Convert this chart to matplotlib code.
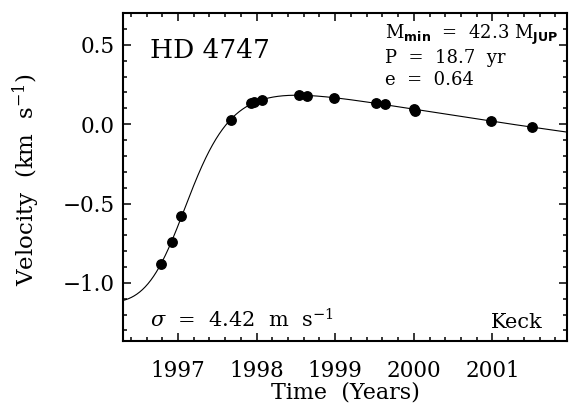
import numpy as np
import matplotlib
matplotlib.use("Agg")
import matplotlib.pyplot as plt
from matplotlib.ticker import MultipleLocator

# Keck radial velocities of HD 4747
years = [1996.780, 1996.924, 1997.042, 1997.673, 1997.927, 1997.973,
         1998.071, 1998.541, 1998.646, 1998.985, 1999.518, 1999.632,
         2000.000, 2000.020, 2000.980, 2001.510]
velocity = [-0.881, -0.740, -0.581, 0.027, 0.132, 0.140,
            0.153, 0.184, 0.176, 0.164, 0.134, 0.128,
            0.096, 0.085, 0.022, -0.018]

period = 18.7      # yr
ecc = 0.64
m_min = 42.3       # M_JUP
sigma = 4.42       # m/s

x_ticks = [1997, 1998, 1999, 2000, 2001]
y_ticks = [-1.0, -0.5, 0.0, 0.5]
y_ticklabels = ['\u22121.0', '\u22120.5', '0.0', '0.5']


def true_anomaly(t, tp):
    mean_anom = 2 * np.pi * (np.asarray(t) - tp) / period
    ecc_anom = mean_anom.copy()
    for _ in range(50):
        ecc_anom -= (ecc_anom - ecc * np.sin(ecc_anom) - mean_anom) / (1 - ecc * np.cos(ecc_anom))
    return 2 * np.arctan2(np.sqrt(1 + ecc) * np.sin(ecc_anom / 2),
                          np.sqrt(1 - ecc) * np.cos(ecc_anom / 2))


def design(t, tp):
    nu = true_anomaly(t, tp)
    return np.column_stack([np.ones_like(nu), np.cos(nu) + ecc, np.sin(nu)])


def fit_orbit(t, v):
    # P and e held fixed; gamma, K cos w, K sin w are linear for a given Tp
    best = None
    for tp in np.linspace(1990.0, 1990.0 + period, 6000):
        A = design(t, tp)
        coef, *_ = np.linalg.lstsq(A, v, rcond=None)
        res = np.sum((A @ coef - v) ** 2)
        if best is None or res < best[0]:
            best = (res, tp, coef)
    return best[1], best[2]


plt.rcParams['font.family'] = ['DejaVu Serif']
plt.rcParams['mathtext.fontset'] = 'custom'
plt.rcParams['mathtext.rm'] = 'DejaVu Serif'
plt.rcParams['mathtext.it'] = 'DejaVu Serif:italic'
plt.rcParams['mathtext.bf'] = 'DejaVu Sans:bold'

t_obs = np.array(years)
v_obs = np.array(velocity)
tp, coef = fit_orbit(t_obs, v_obs)

fig = plt.figure(figsize=(5.7, 4.12), dpi=100)
ax = fig.add_axes([0.2158, 0.173, 0.7790, 0.795])

t_model = np.linspace(1996.3, 2001.95, 800)
ax.plot(t_model, design(t_model, tp) @ coef, color='black', lw=0.8)
ax.plot(t_obs, v_obs, 'o', color='black', ms=6.8)

ax.set_xlim(1996.3, 2001.95)
ax.set_ylim(-1.365, 0.7)
ax.set_xticks(x_ticks)
ax.set_yticks(y_ticks)
ax.set_yticklabels(y_ticklabels)
ax.xaxis.set_minor_locator(MultipleLocator(0.2))
ax.yaxis.set_minor_locator(MultipleLocator(0.1))

ax.tick_params(which='both', direction='in', top=True, right=True, width=1.1)
ax.tick_params(which='major', length=5.8, labelsize=15.5)
ax.tick_params(axis='x', which='major', pad=14)
ax.tick_params(axis='y', which='major', pad=6)
ax.tick_params(which='minor', length=3)
for sp in ax.spines.values():
    sp.set_linewidth(1.5)

ax.set_xlabel('Time  (Years)', fontsize=16)
ax.set_ylabel(r'Velocity  (km  s$^{-1}$)', fontsize=16.5)
ax.xaxis.set_label_coords(0.5, -0.126)
ax.yaxis.set_label_coords(-0.182, 0.49)

ax.text(0.061, 0.8635, 'HD 4747', transform=ax.transAxes, fontsize=19,
        va='baseline', ha='left')
ax.text(0.590, 0.9215, r'M$_{\mathbf{min}}$  =  %.1f M$_{\mathbf{JUP}}$' % m_min,
        transform=ax.transAxes, fontsize=13, va='baseline', ha='left')
ax.text(0.590, 0.848, 'P  =  %.1f  yr' % period, transform=ax.transAxes,
        fontsize=13, va='baseline', ha='left')
ax.text(0.590, 0.781, 'e  =  %.2f' % ecc, transform=ax.transAxes,
        fontsize=13, va='baseline', ha='left')
ax.text(0.061, 0.039, r'$\sigma$  =  %.2f  m  s$^{-1}$' % sigma,
        transform=ax.transAxes, fontsize=15, va='baseline', ha='left')
ax.text(0.944, 0.039, 'Keck', transform=ax.transAxes, fontsize=15,
        va='baseline', ha='right')

fig.savefig('out.png', dpi=100)
